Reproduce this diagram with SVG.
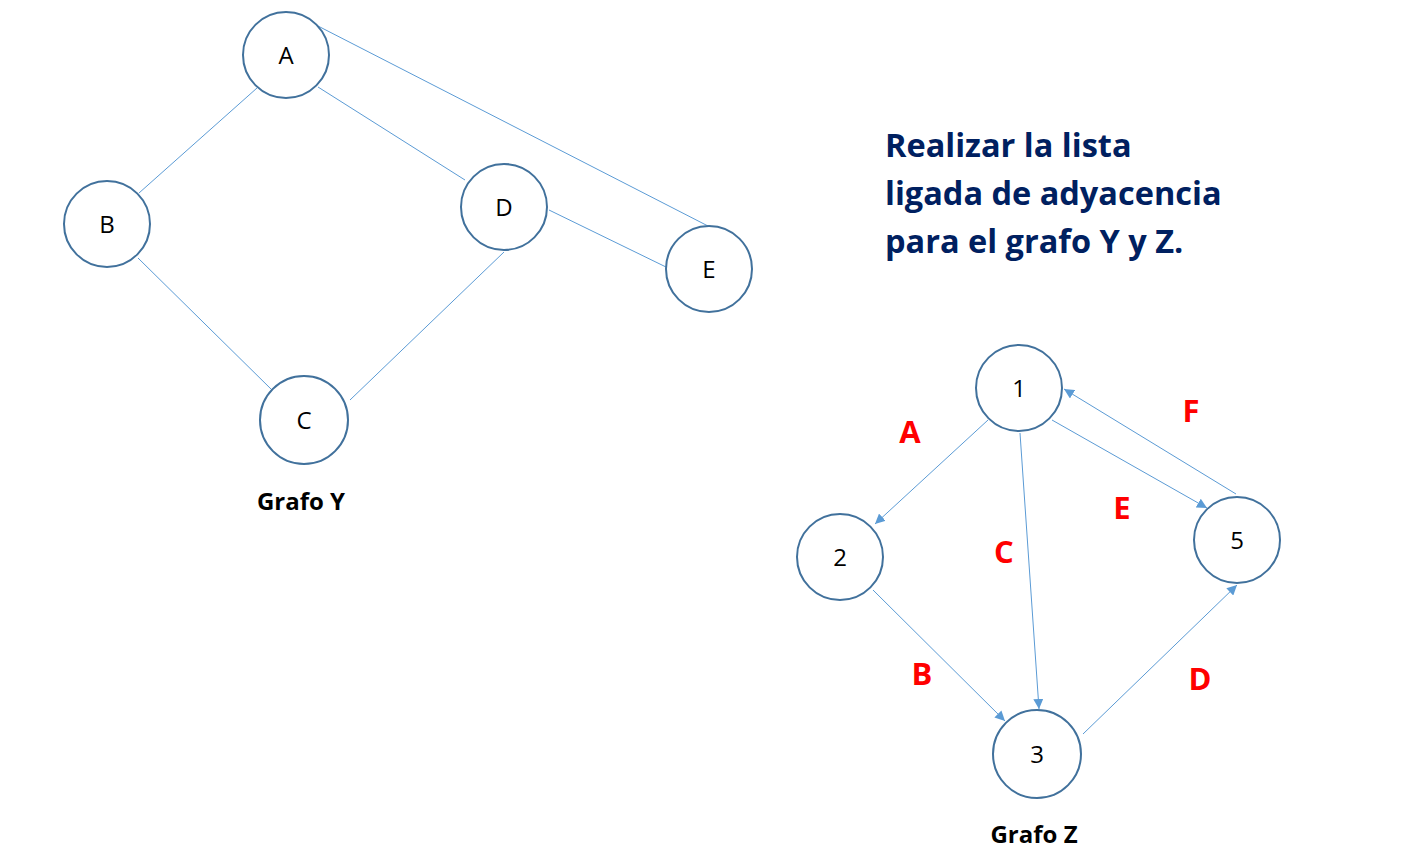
<svg xmlns="http://www.w3.org/2000/svg" width="1427" height="867" viewBox="0 0 1427 867">
<style>
.node{fill:#fff;stroke:#41719C;stroke-width:2}
.nl{font-family:"Open Sans","Noto Sans",sans-serif;font-size:24px;fill:#000;text-anchor:middle}
.e{stroke:#5B9BD5;stroke-width:1;fill:none}
.ea{stroke:#5B9BD5;stroke-width:1;fill:none;marker-end:url(#ar)}
.el{font-family:"Open Sans","Noto Sans",sans-serif;font-size:31px;font-weight:bold;fill:#FF0000;text-anchor:middle}
.cap{font-family:"Open Sans","Noto Sans",sans-serif;font-size:24px;font-weight:bold;fill:#000;text-anchor:middle}
.title{font-family:"Open Sans","Noto Sans",sans-serif;font-size:32.5px;font-weight:bold;fill:#002060}
</style>
<defs>
<marker id="ar" viewBox="0 0 10 10" refX="10" refY="5" markerWidth="10" markerHeight="10" markerUnits="userSpaceOnUse" orient="auto">
<path d="M0,0 L10,5 L0,10 z" fill="#5B9BD5"/>
</marker>
</defs>
<rect width="1427" height="867" fill="#fff"/>
<g id="connectors">
<line class="e" x1="257" y1="88" x2="139" y2="193"/>
<line class="e" x1="318" y1="87" x2="465" y2="180"/>
<line class="e" x1="318" y1="26" x2="708" y2="226"/>
<line class="e" x1="549" y1="210" x2="666" y2="267"/>
<line class="e" x1="138" y1="258" x2="272" y2="390"/>
<line class="e" x1="504" y1="252" x2="350" y2="400"/>
<line class="ea" x1="988" y1="420" x2="875" y2="524"/>
<line class="ea" x1="873" y1="590" x2="1005" y2="721"/>
<line class="ea" x1="1020" y1="433" x2="1039" y2="709"/>
<line class="ea" x1="1083" y1="734" x2="1237" y2="585"/>
<line class="ea" x1="1052" y1="420" x2="1207" y2="508"/>
<line class="ea" x1="1236" y1="494" x2="1064" y2="389"/>
</g>
<g id="node-A"><circle class="node" cx="286" cy="55" r="43"/><text class="nl" x="286" y="64">A</text></g>
<g id="node-B"><circle class="node" cx="107" cy="224" r="43"/><text class="nl" x="107" y="233">B</text></g>
<g id="node-D"><circle class="node" cx="504" cy="207" r="43"/><text class="nl" x="504" y="216">D</text></g>
<g id="node-E"><circle class="node" cx="709" cy="269" r="43"/><text class="nl" x="709" y="278">E</text></g>
<g id="node-C"><circle class="node" cx="304" cy="420" r="44"/><text class="nl" x="304" y="429">C</text></g>
<g id="node-1"><circle class="node" cx="1019" cy="388" r="43"/><text class="nl" x="1019" y="397">1</text></g>
<g id="node-2"><circle class="node" cx="840" cy="557" r="43"/><text class="nl" x="840" y="566">2</text></g>
<g id="node-5"><circle class="node" cx="1237" cy="540" r="43"/><text class="nl" x="1237" y="549">5</text></g>
<g id="node-3"><circle class="node" cx="1037" cy="754" r="44"/><text class="nl" x="1037" y="763">3</text></g>
<g id="labels">
<text class="el" x="910" y="443">A</text>
<text class="el" x="1004" y="563">C</text>
<text class="el" x="1122" y="519">E</text>
<text class="el" x="1191" y="422">F</text>
<text class="el" x="922" y="685">B</text>
<text class="el" x="1200" y="690">D</text>
<text class="cap" x="301" y="510">Grafo Y</text>
<text class="cap" x="1034" y="843">Grafo Z</text>
<text class="title" x="885" y="157">Realizar la lista</text>
<text class="title" x="885" y="205">ligada de adyacencia</text>
<text class="title" x="885" y="253">para el grafo Y y Z.</text>
</g>
</svg>
